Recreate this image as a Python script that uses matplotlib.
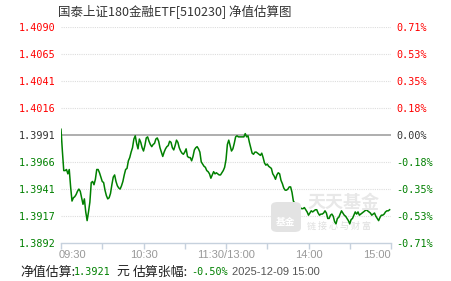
import numpy as np
import matplotlib
matplotlib.use("Agg")
import matplotlib.pyplot as plt
from matplotlib.patches import FancyBboxPatch

# --- data ---
title = "国泰上证180金融ETF[510230] 净值估算图"
base_nav = 1.3991
max_dev = 0.00993

# minute index from 09:30 (0..240, lunch break removed) and estimated NAV
nav = [
    1.3996, 1.3976, 1.3958, 1.3958, 1.3959, 1.3955, 1.3959, 1.3943, 1.3930, 1.3933,
    1.3934, 1.3936, 1.3939, 1.3941, 1.3939, 1.3933, 1.3927, 1.3932, 1.3920, 1.3912,
    1.3920, 1.3929, 1.3947, 1.3948, 1.3945, 1.3950, 1.3959, 1.3959, 1.3956, 1.3952,
    1.3948, 1.3947, 1.3940, 1.3935, 1.3932, 1.3933, 1.3937, 1.3945, 1.3952, 1.3954,
    1.3948, 1.3944, 1.3942, 1.3941, 1.3944, 1.3948, 1.3954, 1.3959, 1.3960, 1.3967,
    1.3970, 1.3975, 1.3979, 1.3987, 1.3990, 1.3983, 1.3978, 1.3987, 1.3984, 1.3979,
    1.3976, 1.3981, 1.3988, 1.3989, 1.3985, 1.3982, 1.3980, 1.3982, 1.3983, 1.3987,
    1.3988, 1.3985, 1.3979, 1.3975, 1.3971, 1.3975, 1.3978, 1.3980, 1.3981, 1.3985,
    1.3984, 1.3979, 1.3977, 1.3981, 1.3986, 1.3984, 1.3979, 1.3976, 1.3974, 1.3973,
    1.3975, 1.3978, 1.3971, 1.3970, 1.3970, 1.3967, 1.3971, 1.3977, 1.3979, 1.3980,
    1.3978, 1.3975, 1.3966, 1.3964, 1.3962, 1.3961, 1.3958, 1.3957, 1.3955, 1.3951,
    1.3954, 1.3957, 1.3955, 1.3956, 1.3955, 1.3954, 1.3954, 1.3956, 1.3958, 1.3961,
    1.3968, 1.3982, 1.3986, 1.3981, 1.3976, 1.3978, 1.3983, 1.3989, 1.3990, 1.3989,
    1.3989, 1.3989, 1.3989, 1.3989, 1.3992, 1.3989, 1.3990, 1.3984, 1.3979, 1.3974,
    1.3973, 1.3975, 1.3975, 1.3974, 1.3973, 1.3972, 1.3974, 1.3970, 1.3965, 1.3963,
    1.3964, 1.3962, 1.3961, 1.3960, 1.3955, 1.3953, 1.3950, 1.3954, 1.3956, 1.3955,
    1.3949, 1.3946, 1.3942, 1.3940, 1.3940, 1.3941, 1.3943, 1.3943, 1.3938, 1.3930,
    1.3928, 1.3925, 1.3927, 1.3922, 1.3924, 1.3923, 1.3923, 1.3924, 1.3922, 1.3920,
    1.3917, 1.3919, 1.3921, 1.3920, 1.3921, 1.3922, 1.3922, 1.3919, 1.3917, 1.3918,
    1.3918, 1.3919, 1.3921, 1.3919, 1.3914, 1.3914, 1.3917, 1.3918, 1.3916, 1.3911,
    1.3909, 1.3914, 1.3915, 1.3918, 1.3921, 1.3919, 1.3917, 1.3916, 1.3914, 1.3912,
    1.3909, 1.3913, 1.3914, 1.3917, 1.3920, 1.3918, 1.3920, 1.3917, 1.3918, 1.3919,
    1.3920, 1.3921, 1.3922, 1.3921, 1.3920, 1.3919, 1.3917, 1.3918, 1.3919, 1.3916,
    1.3914, 1.3912, 1.3915, 1.3917, 1.3917, 1.3918, 1.3920, 1.3921, 1.3921, 1.3922,
]
minutes = np.arange(len(nav))

left_labels = ["1.4090", "1.4065", "1.4041", "1.4016", "1.3991",
               "1.3966", "1.3941", "1.3917", "1.3892"]
right_labels = ["0.71%", "0.53%", "0.35%", "0.18%", "0.00%",
                "-0.18%", "-0.35%", "-0.53%", "-0.71%"]
time_ticks = [0, 60, 120, 180, 240]
time_labels = ["09:30", "10:30", "11:30/13:00", "14:00", "15:00"]

est_nav = "1.3921"
est_pct = "-0.50%"
stamp = "2025-12-09 15:00"

# --- figure ---
W, H = 451, 281
fig = plt.figure(figsize=(W / 100, H / 100), dpi=100)
fig.patch.set_facecolor("white")

def fx(px):
    return px / W

def fy(py):
    return 1 - py / H

ax = fig.add_axes([fx(61), fy(242.7), fx(391) - fx(61), (242.7 - 26.7) / H])
lo, hi = base_nav - max_dev, base_nav + max_dev
ax.set_xlim(0, 240)
ax.set_ylim(lo, hi)
for s in ["top", "left", "right"]:
    ax.spines[s].set_visible(False)
ax.spines["bottom"].set_color("#c6d1dd")
ax.spines["bottom"].set_linewidth(1)

yt = np.linspace(hi, lo, 9)
for v in yt[:-1]:
    if abs(v - base_nav) < 1e-9:
        ax.axhline(v, color="#999999", lw=1.1, zorder=1)
    else:
        ax.axhline(v, color="#dddddd", lw=0.8, ls=(0, (1, 1)), zorder=1)

mono = ["DejaVu Sans Mono", "Noto Sans CJK SC"]
colors = ["red"] * 4 + ["#333333"] + ["green"] * 4
ax.set_yticks(yt)
ax.set_yticklabels(left_labels, fontfamily=mono, fontsize=7.3)
ax.tick_params(axis="y", length=0, pad=4)
for t, c in zip(ax.get_yticklabels(), colors):
    t.set_color(c)

ax2 = ax.twinx()
ax2.set_ylim(lo, hi)
for s in ["top", "left", "right", "bottom"]:
    ax2.spines[s].set_visible(False)
ax2.set_yticks(yt)
ax2.set_yticklabels(right_labels, fontfamily=mono, fontsize=7.3)
ax2.tick_params(axis="y", length=0, pad=4)
for t, c in zip(ax2.get_yticklabels(), colors):
    t.set_color(c)

ax.set_xticks(np.arange(0, 241, 30))
ax.set_xticklabels([])
ax.tick_params(axis="x", length=4, color="#c6d1dd", width=1)
for m, lab in zip(time_ticks, time_labels):
    ha = "left" if m == 0 else ("right" if m == 240 else "center")
    xx = -2 if m == 0 else m
    ax.text(xx, -0.055, lab, transform=ax.get_xaxis_transform(), ha=ha, va="center",
            fontsize=8, color="#999999", family="Liberation Sans")

# watermark
logo = FancyBboxPatch((fx(271), fy(232)), fx(30), 30 / H, boxstyle="round,pad=0,rounding_size=0.015",
                      transform=fig.transFigure, facecolor="#e3e3e3", edgecolor="none", zorder=0)
fig.patches.append(logo)
fig.text(fx(286), fy(222), "基金", ha="center", va="center", fontsize=7, color="white",
         family="Noto Sans CJK SC", weight="bold")
fig.text(fx(307), fy(203), "天天基金", ha="left", va="center", fontsize=13, color="#e8e8e8",
         family="Noto Sans CJK SC", weight="bold")
fig.text(fx(307), fy(226), "链 接 心 与 财 富", ha="left", va="center", fontsize=6.5, color="#dedede",
         family="Noto Sans CJK SC")

ax.plot(minutes, nav, color="#008000", lw=1.1, zorder=3)

# title
fig.text(fx(58), fy(12), title, ha="left", va="center", fontsize=9, color="#333333",
         family=["Noto Sans CJK SC", "DejaVu Sans"])

# bottom info line
cjk = ["Noto Sans CJK SC", "DejaVu Sans"]
parts = [
    (20, "净值估算:", "#222222", cjk, 9.3),
    (74, est_nav, "green", mono, 7.3),
    (116, "元", "#222222", cjk, 9.3),
    (133, "估算张幅:", "#222222", cjk, 9.3),
    (191, est_pct, "green", mono, 7.3),
    (232, stamp, "#555555", ["Liberation Sans"], 8),
]
for px, s, c, fam, fs in parts:
    fig.text(fx(px), fy(272), s, ha="left", va="center", color=c, family=fam, fontsize=fs)

fig.savefig("out.png", dpi=100, facecolor="white")
